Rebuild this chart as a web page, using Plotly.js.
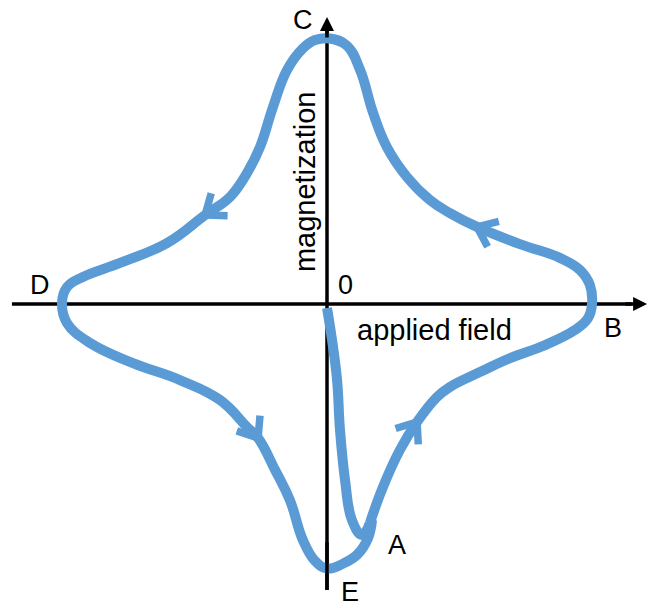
<!DOCTYPE html>
<html>
<head>
<meta charset="utf-8">
<script src="https://cdn.plot.ly/plotly-3.0.1.min.js"></script>
<style>html,body{margin:0;padding:0;background:#fff}#chart{width:648px;height:608px}</style>
</head>
<body>
<div id="chart"></div>
<script>
// Initial magnetization curve (from origin to point A)
const initField = [0, 1.9, 3.8, 4.9, 6.8, 9.4, 13.2, 16.2];
const initMag   = [-1.5, -13.6, -28.7, -47.5, -66.4, -81.5, -87.2, -82.6];

// Hysteresis loop A -> B -> C -> D -> E -> A
const loopField = [16.2, 21.1, 27.5, 34.0, 41.5, 46.4, 57.7, 69.1, 82.3, 93.6, 98.5, 100, 99.2, 95.5, 87.9, 72.8, 56.6, 46.4, 38.9, 30.2, 22.6, 17.4, 12.5, 7.5, 1.1, -4.5, -9.1, -15.1, -20.4, -25.3, -30.2, -36.6, -46.0, -60.4, -78.1, -92.1, -98.1, -100, -98.1, -89.4, -73.2, -55.5, -40.4, -30.2, -26.0, -19.6, -14.0, -9.1, -4.5, 0, 6.0, 11.5, 15.5, 17.0];
const loopMag   = [-82.6, -69.1, -55.1, -44.5, -35.1, -31.3, -25.7, -20.4, -15.5, -9.8, -5.3, 0, 7.2, 12.8, 17.4, 22.6, 29.1, 34.3, 39.2, 47.9, 59.2, 72.1, 88.3, 97.5, 100.2, 99.6, 96.5, 88.3, 74.3, 59.2, 49.4, 40.4, 33.6, 23.0, 15.5, 10.2, 6.4, 0.4, -7.2, -14.7, -22.3, -28.7, -36.2, -46.4, -50.6, -62.6, -74.0, -89.1, -97.0, -99.8, -98.0, -94.5, -88.3, -81.5];

// Direction arrows placed at these loop indices
const arrowIdx = [3, 16, 32, 44];

// Point labels
const pointLabels = ['A', 'B', 'C', 'D', 'E', '0'];
const axisLabels = ['applied field', 'magnetization'];

const BLUE = '#5B9BD5';
const FONT = 'Liberation Sans, Arial, Helvetica, sans-serif';
const S = 2.65; // px per data unit (both axes)

const traces = [];
traces.push({x: initField, y: initMag, mode: 'lines', line: {color: BLUE, width: 10, shape: 'spline', smoothing: 1.2}, hoverinfo: 'skip'});
traces.push({x: loopField, y: loopMag, mode: 'lines', line: {color: BLUE, width: 10, shape: 'spline', smoothing: 1.2}, hoverinfo: 'skip'});

// chevrons built from the curve direction
const L = 8.5, TH = 38 * Math.PI / 180;
arrowIdx.forEach(i => {
  const tx = loopField[i], ty = loopMag[i];
  let dx = loopField[i + 1] - loopField[i - 1], dy = loopMag[i + 1] - loopMag[i - 1];
  const n = Math.hypot(dx, dy); dx /= n; dy /= n;
  const bx = -dx, by = -dy;
  const r = (a) => [bx * Math.cos(a) - by * Math.sin(a), bx * Math.sin(a) + by * Math.cos(a)];
  const a1 = r(TH), a2 = r(-TH);
  traces.push({x: [tx + L * a1[0], tx, tx + L * a2[0]], y: [ty + L * a1[1], ty, ty + L * a2[1]],
    mode: 'lines', line: {color: BLUE, width: 7.5}, hoverinfo: 'skip'});
});

const xr = [(0 - 327) / S, (648 - 327) / S];
const yr = [(304 - 608) / S, (304 - 0) / S];

const lbl = (t, x, y, size, extra) => Object.assign({text: t, x: x, y: y, xref: 'x', yref: 'y', showarrow: false,
  font: {family: FONT, size: size, color: '#000'}, xanchor: 'center', yanchor: 'middle'}, extra || {});

const annotations = [
  // arrowheads of the axes
  {x: 120.8, y: 0, ax: 112, ay: 0, xref: 'x', yref: 'y', axref: 'x', ayref: 'y', text: '', showarrow: true,
   arrowhead: 2, arrowwidth: 3.5, arrowsize: 0.8, arrowcolor: '#000', standoff: 0, startstandoff: 0},
  {x: 0, y: 108.3, ax: 0, ay: 100, xref: 'x', yref: 'y', axref: 'x', ayref: 'y', text: '', showarrow: true,
   arrowhead: 2, arrowwidth: 3.5, arrowsize: 0.8, arrowcolor: '#000', standoff: 0, startstandoff: 0},
  lbl(pointLabels[0], 26.4, -90.9, 27),
  lbl(pointLabels[1], 107.9, -9.1, 27),
  lbl(pointLabels[2], -9.1, 107.2, 27),
  lbl(pointLabels[3], -108.3, 7.2, 27),
  lbl(pointLabels[4], 8.7, -108.7, 27),
  lbl(pointLabels[5], 6.8, 7.2, 27),
  lbl(axisLabels[0], 40.6, -9.8, 29),
  lbl(axisLabels[1], -8.3, 46.0, 29, {textangle: -90})
];

const shapes = [
  {type: 'line', xref: 'x', yref: 'y', x0: -118.9, y0: 0, x1: 115, y1: 0, line: {color: '#000', width: 3.5}, layer: 'below'},
  {type: 'line', xref: 'x', yref: 'y', x0: 0, y0: -107.9, x1: 0, y1: 103, line: {color: '#000', width: 3.5}, layer: 'below'},
  {type: 'line', xref: 'x', yref: 'y', x0: 0, y0: -107.9, x1: 0, y1: -90, line: {color: '#000', width: 3.5}, layer: 'above'}
];

const layout = {
  width: 648, height: 608,
  margin: {l: 0, r: 0, t: 0, b: 0},
  paper_bgcolor: '#fff', plot_bgcolor: 'rgba(0,0,0,0)',
  showlegend: false,
  xaxis: {range: xr, visible: false, fixedrange: true},
  yaxis: {range: yr, visible: false, fixedrange: true},
  shapes: shapes,
  annotations: annotations
};

Plotly.newPlot('chart', traces, layout, {staticPlot: true, displayModeBar: false});
</script>
</body>
</html>
